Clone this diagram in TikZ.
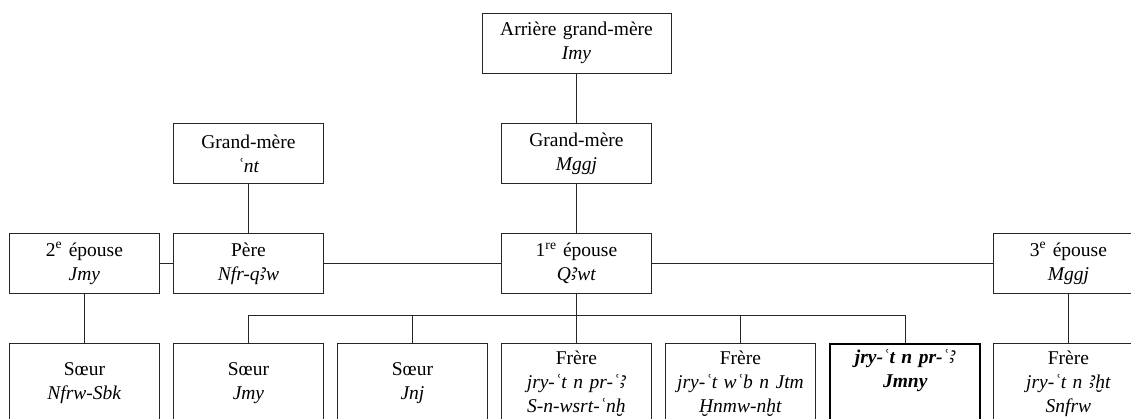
\documentclass[tikz,border=0pt]{standalone}
\usepackage{fontspec}
\setmainfont{Liberation Serif}[WordSpace=0.85]
\newfontfamily\egya{Noto Sans}[Scale=1.1]
\newfontfamily\egyb{DejaVu Sans}[Scale=1.05]
\newfontfamily\egyc{Fira Sans}[Scale=1.1]
\newfontfamily\egyd{Open Sans}[Scale=1.05]
\newcommand{\alef}{{\egya\iffontchar\font"A723 ꜣ\else
  \egyb\iffontchar\font"A723 ꜣ\else
  \egyc\iffontchar\font"A723 ꜣ\else
  \egyd ꜣ\fi\fi\fi}}
\begin{document}
\begin{tikzpicture}[x=1pt,y=-1pt,
  person/.style={draw=black!85, line width=0.9pt, minimum width=150pt, minimum height=60pt,
    align=center, inner sep=0pt, text width=148pt, anchor=north west,
    font=\fontsize{19.5}{24}\selectfont},
  kid/.style={person, minimum height=80pt},
  ego/.style={kid, line width=2.4pt, draw=black, font=\fontsize{19.5}{24}\selectfont\bfseries\itshape},
  link/.style={draw=black!85, line width=0.9pt}]
\useasboundingbox (0,0) rectangle (1131,419);
\clip (0,0) rectangle (1131,419);
% generation 1
\node[person, minimum width=189pt, text width=187pt, anchor=center] (agm) at (576.5,43) {Arrière grand-mère\\\textit{Imy}};
% generation 2
\node[person] (gm1) at (173,123) {Grand-mère\\\textit{ʿnt}};
\node[person] (gm2) at (501,123) {Grand-mère\\\textit{Mggj}};
% generation 3
\node[person] (ep2) at (9,233) {2\textsuperscript{e} épouse\\\textit{Jmy}};
\node[person] (pere) at (173,233) {Père\\\textit{Nfr-q\alef w}};
\node[person] (ep1) at (501,233) {1\textsuperscript{re} épouse\\\textit{Q\alef wt}};
\node[person] (ep3) at (993,233) {3\textsuperscript{e} épouse\\\textit{Mggj}};
% generation 4
\node[kid] (s1) at (9,343) {Sœur\\\textit{Nfrw-Sbk}};
\node[kid] (s2) at (173,343) {Sœur\\\textit{Jmy}};
\node[kid] (s3) at (337,343) {Sœur\\\textit{Jnj}};
\node[kid] (f1) at (501,343) {Frère\\\textit{jry-ʿt n pr-ʿ\alef}\\\textit{S-n-wsrt-ʿnḫ}};
\node[kid] (f2) at (665,343) {Frère\\\textit{jry-ʿt wʿb n Jtm}\\\textit{Ḫnmw-nḫt}};
\node[ego] (me) at (829,343) {jry-ʿt n pr-ʿ\alef\\Jmny\\\strut};
\node[kid] (f3) at (993,343) {Frère\\\textit{jry-ʿt n \alef ḫt}\\\textit{Snfrw}};
% connectors
\coordinate (bar) at (576,315);
\draw[link] (agm.south) -- (gm2.north);
\draw[link] (gm1.south) -- (pere.north);
\draw[link] (gm2.south) -- (ep1.north);
\draw[link] (ep2.east) -- (pere.west);
\draw[link] (pere.east) -- (ep1.west);
\draw[link] (ep1.east) -- (ep3.west);
\draw[link] (ep2.south) -- (s1.north);
\draw[link] (ep3.south) -- (f3.north);
\draw[link] (ep1.south) -- (f1.north);
\draw[link] (s2.north) -- (s2.north |- bar) -- (me.north |- bar) -- (me.north);
\draw[link] (s3.north) -- (s3.north |- bar);
\draw[link] (f2.north) -- (f2.north |- bar);
\end{tikzpicture}
\end{document}
